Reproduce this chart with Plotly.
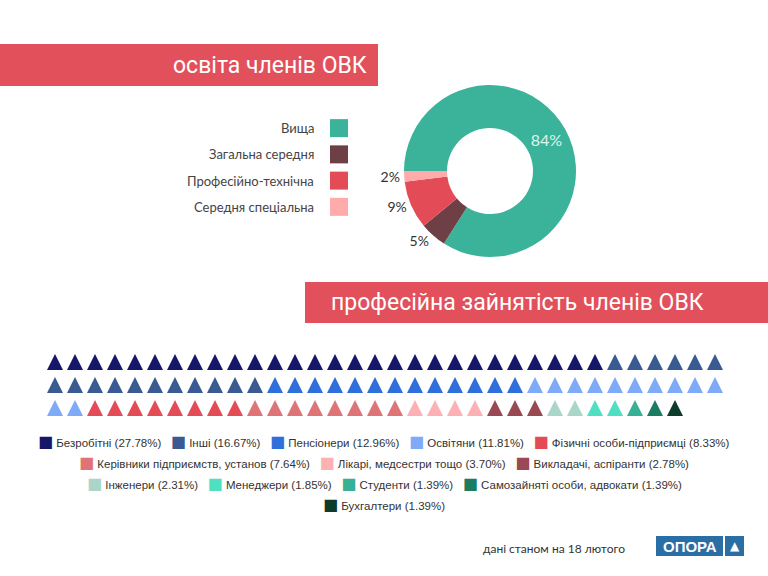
import plotly.graph_objects as go

W, H = 768, 576

# ---------------- data ----------------
edu_labels = ["Вища", "Загальна середня", "Професійно-технічна", "Середня спеціальна"]
edu_values = [84, 5, 9, 2]
edu_colors = ["#3bb39a", "#6e3f45", "#e34c57", "#ffabab"]

job_labels = ["Безробітні", "Інші", "Пенсіонери", "Освітяни", "Фізичні особи-підприємці",
              "Керівники підприємств, установ", "Лікарі, медсестри тощо", "Викладачі, аспіранти",
              "Інженери", "Менеджери", "Студенти", "Самозайняті особи, адвокати", "Бухгалтери"]
job_shares = [27.78, 16.67, 12.96, 11.81, 8.33, 7.64, 3.70, 2.78, 2.31, 1.85, 1.39, 1.39, 1.39]
job_colors = ["#16176b", "#3a5a92", "#2f6fdc", "#7eaaf7", "#e34c57", "#de7378", "#fcb1b4",
              "#984951", "#a9d6c9", "#4fe0c1", "#37b096", "#1b7c62", "#0d3b2c"]

title_edu = "освіта членів ОВК"
title_job = "професійна зайнятість членів ОВК"
note_text = "дані станом на 18 лютого"
brand_text = "ОПОРА"

# ---------------- layout helpers ----------------
def px(x):
    return x / W

def py(y):
    return 1 - y / H

PER_ROW = 34
LEGEND_ROWS = [5, 3, 4, 1]
BAR_RED = "#e2505b"
TITLE_FONT = "Roboto, Liberation Sans, sans-serif"
BODY_FONT = "Lato, Noto Sans, sans-serif"
LEG_FONT = "Liberation Sans, Arial, sans-serif"

fig = go.Figure()

# ---------------- donut ----------------
fig.add_trace(go.Pie(
    labels=edu_labels, values=edu_values, hole=0.5, sort=False,
    direction="clockwise", rotation=-90,
    marker=dict(colors=edu_colors, line=dict(width=0)),
    texttemplate="%{value}%",
    textposition=["inside", "outside", "outside", "outside"],
    insidetextorientation="horizontal",
    insidetextfont=dict(color="#dff3ee", size=16, family=BODY_FONT),
    outsidetextfont=dict(color="#333333", size=14, family=BODY_FONT),
    domain=dict(x=[px(403), px(577)], y=[py(257), py(85)]),
    showlegend=False, hoverinfo="label+percent",
))

# donut legend squares (right of labels)
leg_idx = list(range(len(edu_labels)))
fig.add_trace(go.Scatter(
    x=[0] * len(edu_labels), y=leg_idx, mode="markers",
    marker=dict(symbol="square", size=18, color=edu_colors, line=dict(width=0)),
    xaxis="x3", yaxis="y3", showlegend=False, hoverinfo="skip",
))

annotations = []
for i, lab in enumerate(edu_labels):
    annotations.append(dict(
        text=lab, x=px(316), xref="paper", y=i, yref="y3",
        xanchor="right", yanchor="middle", showarrow=False,
        font=dict(family=BODY_FONT, size=13, color="#444444"),
    ))

# ---------------- waffle of triangles ----------------
counts = [round(s) for s in job_shares]
pos = 0
for lab, c, col in zip(job_labels, counts, job_colors):
    idx = list(range(pos, pos + c))
    pos += c
    fig.add_trace(go.Scatter(
        x=[k % PER_ROW for k in idx], y=[k // PER_ROW for k in idx],
        mode="markers", name=lab, cliponaxis=False,
        marker=dict(symbol="arrow-up", size=16, color=col, line=dict(width=0)),
        xaxis="x2", yaxis="y2", showlegend=False,
        hovertemplate=lab + "<extra></extra>",
    ))

# ---------------- waffle legend (centered lines) ----------------
line_y = [441, 462, 483, 504]
k = 0
for r, n in enumerate(LEGEND_ROWS):
    parts = []
    for j in range(k, k + n):
        parts.append("<span style='color:%s;font-family:DejaVu Sans;font-size:16px'>■</span> %s (%.2f%%)"
                     % (job_colors[j], job_labels[j], job_shares[j]))
    k += n
    annotations.append(dict(
        text="&nbsp;&nbsp; ".join(parts), x=0.5, xref="paper", y=py(line_y[r]), yref="paper",
        xanchor="center", yanchor="middle", showarrow=False,
        font=dict(family=LEG_FONT, size=11.5, color="#333333"),
    ))

# ---------------- title bars ----------------
shapes = [
    dict(type="rect", xref="paper", yref="paper", x0=px(0), x1=px(378), y0=py(86), y1=py(44),
         fillcolor=BAR_RED, line=dict(width=0), layer="below"),
    dict(type="rect", xref="paper", yref="paper", x0=px(305), x1=px(768), y0=py(323), y1=py(282),
         fillcolor=BAR_RED, line=dict(width=0), layer="below"),
    # logo boxes
    dict(type="rect", xref="paper", yref="paper", x0=px(656), x1=px(723), y0=py(556), y1=py(536),
         fillcolor="#2a6ea6", line=dict(width=0)),
    dict(type="rect", xref="paper", yref="paper", x0=px(725), x1=px(744), y0=py(556), y1=py(536),
         fillcolor="#2a6ea6", line=dict(width=0)),
]

annotations += [
    dict(text=title_edu, x=px(369), y=py(65), xref="paper", yref="paper",
         xanchor="right", yanchor="middle", showarrow=False,
         font=dict(family=TITLE_FONT, size=23, color="white")),
    dict(text=title_job, x=px(329), y=py(302), xref="paper", yref="paper",
         xanchor="left", yanchor="middle", showarrow=False,
         font=dict(family=TITLE_FONT, size=23, color="white")),
    dict(text=note_text, x=px(481), y=py(548), xref="paper", yref="paper",
         xanchor="left", yanchor="middle", showarrow=False,
         font=dict(family=BODY_FONT, size=12, color="#333333")),
    dict(text="<b>" + brand_text + "</b>", x=px(689.5), y=py(546), xref="paper", yref="paper",
         xanchor="center", yanchor="middle", showarrow=False,
         font=dict(family="Liberation Sans, Arial, sans-serif", size=15, color="white")),
    dict(text="▲", x=px(734.5), y=py(546), xref="paper", yref="paper",
         xanchor="center", yanchor="middle", showarrow=False,
         font=dict(family="DejaVu Sans, sans-serif", size=12, color="white")),
]

hidden = dict(visible=False, showgrid=False, zeroline=False, fixedrange=True)

fig.update_layout(
    width=W, height=H, margin=dict(l=0, r=0, t=0, b=0),
    paper_bgcolor="white", plot_bgcolor="rgba(0,0,0,0)",
    font=dict(family=BODY_FONT, color="#333333"),
    showlegend=False,
    xaxis=dict(hidden, domain=[0, 0.01]),
    yaxis=dict(hidden, domain=[0, 0.01]),
    xaxis2=dict(hidden, domain=[px(45), px(725)], range=[-0.5, PER_ROW - 0.5]),
    yaxis2=dict(hidden, domain=[py(411.5), py(342.5)], range=[2.5, -0.5]),
    xaxis3=dict(hidden, domain=[px(329), px(349)], range=[-1, 1]),
    yaxis3=dict(hidden, domain=[py(220), py(115)], range=[3.5, -0.5]),
    shapes=shapes, annotations=annotations,
)

fig.write_html("out.html", config={"displayModeBar": False},
               post_script="document.body.style.margin='0px';")
